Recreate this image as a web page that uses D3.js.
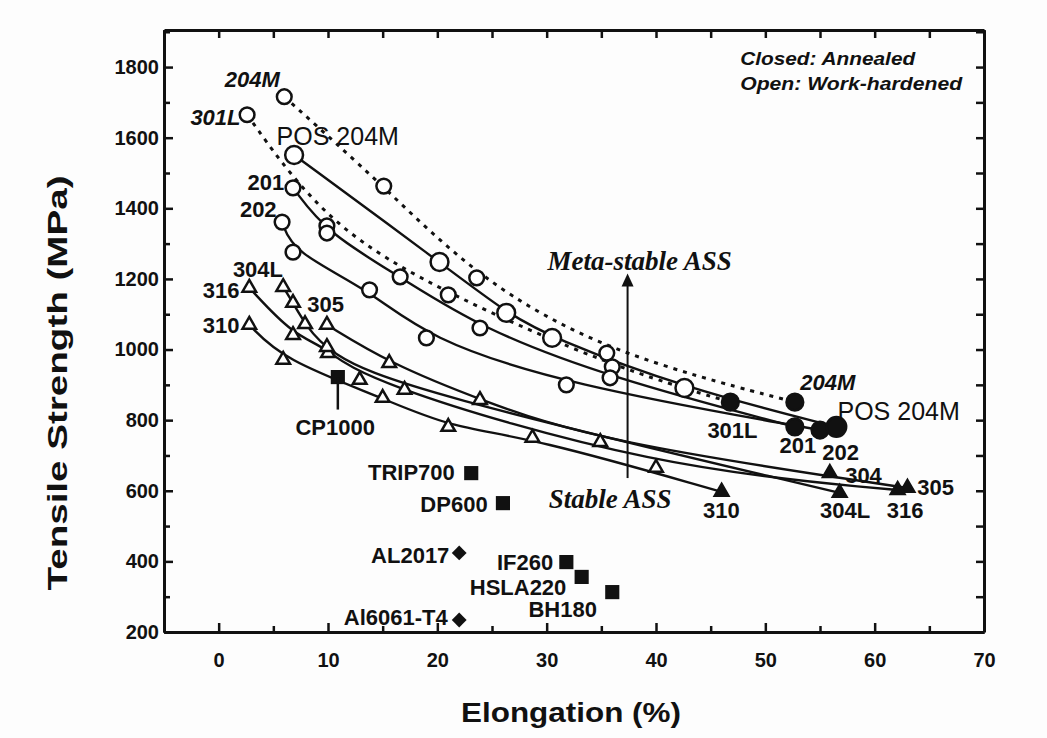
<!DOCTYPE html>
<html>
<head>
<meta charset="utf-8">
<script src="https://cdn.jsdelivr.net/npm/d3@7"></script>
<style>
  body { margin: 0; background: #fff; }
  text { font-family: "Liberation Sans", Arial, sans-serif; fill: #111; }
</style>
</head>
<body>
<script>
// svg size
var svgWidth = 1047;
var svgHeight = 738;

// ticks
var xTicks = [0, 10, 20, 30, 40, 50, 60, 70];
var xMinor = [-5, 5, 15, 25, 35, 45, 55, 65];
var yTicks = [200, 400, 600, 800, 1000, 1200, 1400, 1600, 1800];
var yMinor = [300, 500, 700, 900, 1100, 1300, 1500, 1700, 1900];

// meta-stable ASS: [elongation %, tensile MPa], last point = annealed
var g204M = [[6.0, 1716], [15.1, 1463], [23.6, 1203], [35.5, 990], [52.7, 851]];
var g301L = [[2.6, 1665], [9.9, 1350], [21.0, 1155], [36.0, 951], [46.8, 851]];
var gPOS204M = [[6.9, 1551], [20.2, 1248], [26.3, 1104], [30.5, 1033], [42.6, 891], [56.5, 781]];
var g201 = [[6.8, 1458], [9.9, 1330], [16.6, 1206], [23.9, 1061], [35.8, 920], [52.7, 781]];
var g202 = [[5.8, 1361], [6.8, 1276], [13.8, 1169], [19.0, 1033], [31.8, 900], [55.0, 772]];

// stable ASS, last point = annealed
var g304L = [[5.9, 1177], [6.8, 1132], [7.9, 1072], [10.0, 990], [17.0, 886], [56.8, 594]];
var g305 = [[9.9, 1070], [15.6, 962], [23.9, 857], [34.9, 738], [63.0, 608]];
var g316 = [[2.8, 1175], [6.8, 1041], [9.9, 1007], [12.9, 914], [40.0, 665], [62.1, 602]];
var g310 = [[2.8, 1070], [5.9, 971], [15.0, 863], [21.0, 781], [28.7, 750], [46.0, 597]];
var g304 = [[55.9, 650]];

// other steels (squares) and aluminium (diamonds)
var steelNames = ["CP1000", "TRIP700", "DP600", "IF260", "HSLA220", "BH180"];
var steelPts = [[10.9, 922], [23.1, 650], [26.0, 565], [31.8, 398], [33.2, 356], [36.0, 313]];
var alNames = ["AL2017", "Al6061-T4"];
var alPts = [[22.0, 424], [22.0, 234]];

var margin = {top: 30, right: 63, bottom: 106, left: 164};
var chartWidth = svgWidth - margin.left - margin.right;
var chartHeight = svgHeight - margin.top - margin.bottom;

var svg = d3.select("body")
  .append("svg")
  .attr("width", svgWidth)
  .attr("height", svgHeight)
  .style("background", "#fdfdfd");

var chartGroup = svg.append("g")
  .attr("transform", `translate(${margin.left},${margin.top})`);

var xScale = d3.scaleLinear().domain([-5, 70]).range([0, chartWidth]);
var yScale = d3.scaleLinear().domain([200, 1905]).range([chartHeight, 0]);

// axes, ticks pointing inward on all four sides
function styleAxis(g) {
  g.selectAll("path").attr("stroke", "#111").attr("stroke-width", 3);
  g.selectAll("line").attr("stroke", "#111").attr("stroke-width", 2.5);
  g.selectAll("text").attr("font-size", 20).attr("font-weight", "bold").attr("fill", "#111");
}

chartGroup.append("g")
  .attr("transform", `translate(0,${chartHeight})`)
  .call(d3.axisBottom(xScale).tickValues(xTicks).tickSizeInner(-9).tickSizeOuter(0).tickPadding(21))
  .call(styleAxis);
chartGroup.append("g")
  .attr("transform", `translate(0,${chartHeight})`)
  .call(d3.axisBottom(xScale).tickValues(xMinor).tickFormat("").tickSizeInner(-6).tickSizeOuter(0))
  .call(styleAxis);
chartGroup.append("g")
  .call(d3.axisLeft(yScale).tickValues(yTicks).tickFormat(d3.format("d")).tickSizeInner(-9).tickSizeOuter(0).tickPadding(5))
  .call(styleAxis);
chartGroup.append("g")
  .call(d3.axisLeft(yScale).tickValues(yMinor).tickFormat("").tickSizeInner(-6).tickSizeOuter(0))
  .call(styleAxis);
chartGroup.append("g")
  .call(d3.axisTop(xScale).tickValues(xTicks.concat(xMinor)).tickFormat("").tickSizeInner(-8).tickSizeOuter(0))
  .call(styleAxis);
chartGroup.append("g")
  .attr("transform", `translate(${chartWidth},0)`)
  .call(d3.axisRight(yScale).tickValues(yTicks.concat(yMinor)).tickFormat("").tickSizeInner(-8).tickSizeOuter(0))
  .call(styleAxis);

// fitted curves
var line = d3.line()
  .x(function(d) { return xScale(d[0]); })
  .y(function(d) { return yScale(d[1]); })
  .curve(d3.curveBasis);

function drawCurve(pts, dashed) {
  chartGroup.append("path")
    .datum(pts)
    .attr("d", line)
    .attr("fill", "none")
    .attr("stroke", "#111")
    .attr("stroke-width", dashed ? 3 : 2.4)
    .attr("stroke-dasharray", dashed ? "4,6" : null);
}

[g202, g201, gPOS204M].forEach(function(s) { drawCurve(s, false); });
[g204M, g301L].forEach(function(s) { drawCurve(s, true); });
[g304L, g305, g316, g310].forEach(function(s) { drawCurve(s, false); });

// markers: open = work-hardened, filled = annealed (last point)
function drawMarkers(pts, type, size, lastSize) {
  chartGroup.selectAll(null)
    .data(pts)
    .enter()
    .append("path")
    .attr("transform", function(d) { return `translate(${xScale(d[0])},${yScale(d[1])})`; })
    .attr("d", function(d, i) {
      return d3.symbol().type(type).size(i === pts.length - 1 ? lastSize : size)();
    })
    .attr("fill", function(d, i) { return i === pts.length - 1 ? "#111" : "#fff"; })
    .attr("stroke", "#111")
    .attr("stroke-width", 2.5);
}

drawMarkers(g204M, d3.symbolCircle, 170, 220);
drawMarkers(g301L, d3.symbolCircle, 170, 220);
drawMarkers(g201, d3.symbolCircle, 170, 220);
drawMarkers(g202, d3.symbolCircle, 170, 220);
drawMarkers(gPOS204M, d3.symbolCircle, 250, 300);
drawMarkers(g304L, d3.symbolTriangle, 80, 80);
drawMarkers(g305, d3.symbolTriangle, 80, 80);
drawMarkers(g316, d3.symbolTriangle, 80, 80);
drawMarkers(g310, d3.symbolTriangle, 80, 80);
drawMarkers(g304, d3.symbolTriangle, 80, 80);

chartGroup.selectAll(null)
  .data(steelPts)
  .enter()
  .append("path")
  .attr("transform", function(d) { return `translate(${xScale(d[0])},${yScale(d[1])})`; })
  .attr("d", d3.symbol().type(d3.symbolSquare).size(200))
  .attr("fill", "#111");

chartGroup.selectAll(null)
  .data(alPts)
  .enter()
  .append("path")
  .attr("transform", function(d) { return `translate(${xScale(d[0])},${yScale(d[1])}) rotate(45)`; })
  .attr("d", d3.symbol().type(d3.symbolSquare).size(110))
  .attr("fill", "#111");

// CP1000 leader line
chartGroup.append("line")
  .attr("x1", xScale(steelPts[0][0])).attr("x2", xScale(steelPts[0][0]))
  .attr("y1", yScale(steelPts[0][1])).attr("y2", yScale(830))
  .attr("stroke", "#111").attr("stroke-width", 2.5);

// meta-stable arrow
var arrowX = xScale(37.4);
var arrowTop = yScale(1215);
chartGroup.append("line")
  .attr("x1", arrowX).attr("x2", arrowX)
  .attr("y1", yScale(636)).attr("y2", arrowTop + 8)
  .attr("stroke", "#111").attr("stroke-width", 2);
chartGroup.append("path")
  .attr("d", `M${arrowX},${arrowTop} L${arrowX - 6},${arrowTop + 13} L${arrowX + 6},${arrowTop + 13} Z`)
  .attr("fill", "#111");

// labels: [text, x, y, anchor, kind]
var labels = [
  ["204M", 0.55, 1743, "start", "ib"],
  ["301L", 2.0, 1636, "end", "ib"],
  ["POS 204M", 5.3, 1579, "start", "big"],
  ["201", 6.0, 1452, "end", "b"],
  ["202", 5.3, 1375, "end", "b"],
  ["304L", 1.3, 1205, "start", "b"],
  ["316", 1.9, 1146, "end", "b"],
  ["305", 8.1, 1106, "start", "b"],
  ["310", 1.9, 1047, "end", "b"],
  ["CP1000", 10.66, 758, "middle", "b"],
  ["204M", 53.2, 885, "start", "ib"],
  ["POS 204M", 56.6, 800, "start", "big"],
  ["301L", 44.7, 749, "start", "b"],
  ["201", 51.3, 707, "start", "b"],
  ["202", 55.2, 687, "start", "b"],
  ["304", 57.3, 622, "start", "b"],
  ["304L", 55.0, 523, "start", "b"],
  ["310", 44.3, 523, "start", "b"],
  ["316", 61.1, 523, "start", "b"],
  ["305", 63.9, 588, "start", "b"],
  ["TRIP700", 21.6, 630, "end", "b"],
  ["DP600", 24.6, 540, "end", "b"],
  ["AL2017", 21.1, 395, "end", "b"],
  ["IF260", 30.6, 376, "end", "b"],
  ["HSLA220", 31.8, 305, "end", "b"],
  ["BH180", 34.6, 242, "end", "b"],
  ["Al6061-T4", 20.95, 220, "end", "b"]
];

chartGroup.selectAll(null)
  .data(labels)
  .enter()
  .append("text")
  .attr("x", function(d) { return xScale(d[1]); })
  .attr("y", function(d) { return yScale(d[2]); })
  .attr("text-anchor", function(d) { return d[3]; })
  .attr("font-size", function(d) { return d[4] === "big" ? 25 : 22; })
  .attr("font-weight", function(d) { return d[4] === "big" ? "normal" : "bold"; })
  .attr("font-style", function(d) { return d[4] === "ib" ? "italic" : "normal"; })
  .text(function(d) { return d[0]; });

// region notes
chartGroup.append("text")
  .attr("x", xScale(38.5)).attr("y", yScale(1225))
  .attr("text-anchor", "middle")
  .style("font-family", "'Liberation Serif', 'Times New Roman', serif")
  .attr("font-size", 27).attr("font-weight", "bold").attr("font-style", "italic")
  .text("Meta-stable ASS");
chartGroup.append("text")
  .attr("x", xScale(35.8)).attr("y", yScale(551))
  .attr("text-anchor", "middle")
  .style("font-family", "'Liberation Serif', 'Times New Roman', serif")
  .attr("font-size", 27).attr("font-weight", "bold").attr("font-style", "italic")
  .text("Stable ASS");

// legend note
chartGroup.append("text")
  .attr("x", xScale(47.7)).attr("y", yScale(1806))
  .attr("font-size", 19).attr("font-weight", "bold").attr("font-style", "italic")
  .attr("textLength", 175).attr("lengthAdjust", "spacingAndGlyphs")
  .text("Closed: Annealed");
chartGroup.append("text")
  .attr("x", xScale(47.7)).attr("y", yScale(1735))
  .attr("font-size", 19).attr("font-weight", "bold").attr("font-style", "italic")
  .attr("textLength", 222).attr("lengthAdjust", "spacingAndGlyphs")
  .text("Open: Work-hardened");

// axis titles
svg.append("text")
  .attr("transform", `translate(67,383) rotate(-90)`)
  .attr("text-anchor", "middle")
  .attr("font-size", 28).attr("font-weight", "bold")
  .attr("textLength", 415).attr("lengthAdjust", "spacingAndGlyphs")
  .text("Tensile Strength (MPa)");
svg.append("text")
  .attr("x", 571).attr("y", 722)
  .attr("text-anchor", "middle")
  .attr("font-size", 28).attr("font-weight", "bold")
  .attr("textLength", 220).attr("lengthAdjust", "spacingAndGlyphs")
  .text("Elongation (%)");
</script>
</body>
</html>
